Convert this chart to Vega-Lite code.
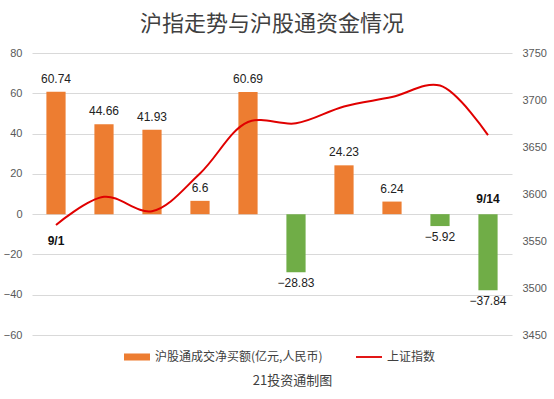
{
  "$schema": "https://vega.github.io/schema/vega-lite/v6.json",
  "width": 480,
  "height": 282,
  "autosize": {"type": "none"},
  "padding": {"left": 32, "top": 53, "right": 42, "bottom": 64},
  "background": "white",
  "config": {"view": {"stroke": null}},
  "title": {
    "text": "沪指走势与沪股通资金情况",
    "font": "Noto Sans CJK SC",
    "fontSize": 22,
    "fontWeight": "normal",
    "color": "#404040",
    "anchor": "middle",
    "offset": 11
  },
  "data": {
    "values": [
      {"date": "9/1", "flow": 60.74, "index": 3567.10},
      {"date": "9/2", "flow": 44.66, "index": 3597.04},
      {"date": "9/3", "flow": 41.93, "index": 3581.73},
      {"date": "9/6", "flow": 6.6, "index": 3621.86},
      {"date": "9/7", "flow": 60.69, "index": 3676.59},
      {"date": "9/8", "flow": -28.83, "index": 3675.19},
      {"date": "9/9", "flow": 24.23, "index": 3693.13},
      {"date": "9/10", "flow": 6.24, "index": 3703.11},
      {"date": "9/13", "flow": -5.92, "index": 3715.37},
      {"date": "9/14", "flow": -37.84, "index": 3662.60}
    ]
  },
  "encoding": {
    "x": {
      "field": "date",
      "type": "ordinal",
      "sort": null,
      "scale": {"paddingInner": 0.6, "paddingOuter": 0.3},
      "axis": {
        "title": "21投资通制图",
        "labels": false,
        "ticks": false,
        "domain": false,
        "grid": false,
        "titlePadding": 39,
        "titleX": 260,
        "titleFont": "Noto Sans CJK SC",
        "titleFontSize": 13,
        "titleFontWeight": "normal",
        "titleColor": "#404040"
      }
    }
  },
  "layer": [
    {
      "layer": [
        {
          "mark": {"type": "bar"},
          "encoding": {
            "y": {
              "field": "flow",
              "type": "quantitative",
              "scale": {"domain": [-60, 80], "nice": false},
              "axis": {
                "values": [-60, -40, -20, 0, 20, 40, 60, 80],
                "title": null,
                "domain": false,
                "ticks": false,
                "labelColor": "#595959",
                "labelFont": "Liberation Sans",
                "labelFontSize": 11,
                "labelPadding": 10,
                "gridColor": "#d9d9d9"
              }
            },
            "color": {
              "datum": "沪股通成交净买额(亿元,人民币)",
              "type": "nominal",
              "condition": {"test": "datum.flow < 0", "value": "#70AD47"},
              "scale": {
                "domain": ["沪股通成交净买额(亿元,人民币)", "上证指数"],
                "range": ["#ED7D31", "#E00000"]
              },
              "legend": {
                "orient": "none",
                "legendX": 92,
                "legendY": 291,
                "direction": "horizontal",
                "title": null,
                "labelFont": "Noto Sans CJK SC",
                "labelFontSize": 12,
                "labelColor": "#404040",
                "labelLimit": 400,
                "symbolSize": 676,
                "columnPadding": 33,
                "labelOffset": 5,
                "symbolType": "M-1,-0.27H1V0.27H-1Z",
                "encode": {
                  "symbols": {
                    "update": {
                      "shape": {"signal": "datum.value === '上证指数' ? 'M-1,-0.07H1V0.07H-1Z' : 'M-1,-0.27H1V0.27H-1Z'"},
                      "fill": {"signal": "datum.value === '上证指数' ? '#E00000' : '#ED7D31'"},
                      "stroke": {"value": "transparent"},
                      "strokeWidth": {"value": 0},
                      "opacity": {"value": 1},
                      "fillOpacity": {"value": 1}
                    }
                  }
                }
              }
            }
          }
        },
        {
          "transform": [{"filter": "datum.flow >= 0"}],
          "mark": {"type": "text", "baseline": "bottom", "dy": -6, "font": "Liberation Sans", "fontSize": 12, "color": "#222222"},
          "encoding": {
            "y": {"field": "flow", "type": "quantitative"},
            "text": {"field": "flow", "type": "quantitative", "format": "~g"}
          }
        },
        {
          "transform": [{"filter": "datum.flow < 0"}],
          "mark": {"type": "text", "baseline": "top", "dy": 6, "font": "Liberation Sans", "fontSize": 12, "color": "#222222"},
          "encoding": {
            "y": {"field": "flow", "type": "quantitative"},
            "text": {"field": "flow", "type": "quantitative", "format": "~g"}
          }
        },
        {
          "transform": [{"filter": "datum.date === '9/14'"}],
          "mark": {"type": "text", "baseline": "middle", "dy": -15, "font": "Liberation Sans", "fontSize": 12, "fontWeight": "bold", "color": "#111111"},
          "encoding": {
            "y": {"datum": 0, "type": "quantitative"},
            "text": {"field": "date", "type": "nominal"}
          }
        }
      ]
    },
    {
      "layer": [
        {
          "mark": {"type": "line", "interpolate": "catmull-rom", "strokeWidth": 2},
          "encoding": {
            "y": {
              "field": "index",
              "type": "quantitative",
              "scale": {"domain": [3450, 3750], "nice": false, "zero": false},
              "axis": {
                "orient": "right",
                "values": [3450, 3500, 3550, 3600, 3650, 3700, 3750],
                "format": "d",
                "title": null,
                "domain": false,
                "ticks": false,
                "grid": false,
                "labelColor": "#595959",
                "labelFont": "Liberation Sans",
                "labelFontSize": 11,
                "labelPadding": 10
              }
            },
            "color": {"datum": "上证指数", "type": "nominal"}
          }
        },
        {
          "transform": [{"filter": "datum.date === '9/1'"}],
          "mark": {"type": "text", "baseline": "middle", "dy": 16, "font": "Liberation Sans", "fontSize": 12, "fontWeight": "bold", "color": "#111111"},
          "encoding": {
            "y": {"field": "index", "type": "quantitative"},
            "text": {"field": "date", "type": "nominal"}
          }
        }
      ]
    }
  ],
  "resolve": {"scale": {"y": "independent"}}
}
